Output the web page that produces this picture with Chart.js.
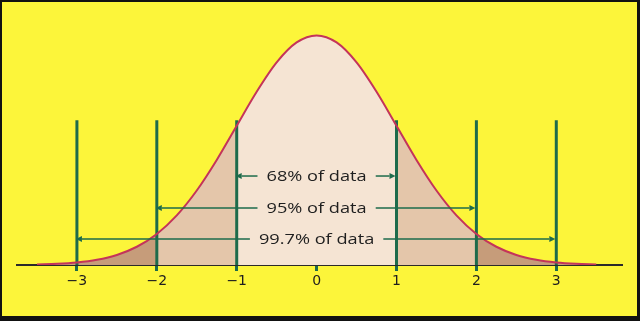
<!DOCTYPE html>
<html>
<head>
<meta charset="utf-8">
<script src="https://cdn.jsdelivr.net/npm/chart.js@4/dist/chart.umd.min.js"></script>
<style>
  html, body { margin: 0; padding: 0; background: #fcf53a; }
  canvas { display: block; }
</style>
</head>
<body>
<canvas id="bell" width="640" height="321"></canvas>
<script>
// bell curve (x in standard deviations, height of the curve)
const zValues = [-3.5, -3.25, -3, -2.75, -2.5, -2.25, -2, -1.75, -1.5, -1.25, -1, -0.75, -0.5, -0.25,
  0, 0.25, 0.5, 0.75, 1, 1.25, 1.5, 1.75, 2, 2.25, 2.5, 2.75, 3, 3.25, 3.5];
const density = [0.0009, 0.002, 0.0044, 0.0091, 0.0175, 0.0317, 0.054, 0.0863, 0.1295, 0.1826, 0.242, 0.3011, 0.3521, 0.3867,
  0.3989, 0.3867, 0.3521, 0.3011, 0.242, 0.1826, 0.1295, 0.0863, 0.054, 0.0317, 0.0175, 0.0091, 0.0044, 0.002, 0.0009];

const sigmaTicks = [-3, -2, -1, 0, 1, 2, 3];
const markerLines = [-3, -2, -1, 1, 2, 3];
const rangeLabels = ['68% of data', '95% of data', '99.7% of data'];
const rangeWidths = [1, 2, 3];

const GREEN = '#1d6b4b';
const points = zValues.map((z, i) => ({ x: z, y: density[i] }));
const band = (lo, hi) => points.filter(p => p.x >= lo && p.x <= hi);

const areaSet = (data, color) => ({
  data: data, fill: 'origin', backgroundColor: color,
  borderWidth: 0, pointRadius: 0, cubicInterpolationMode: 'monotone'
});

const datasets = [
  { data: points, borderColor: '#c4345a', borderWidth: 2, pointRadius: 0, fill: false, cubicInterpolationMode: 'monotone' },
  ...markerLines.map(v => ({
    data: [{ x: v, y: 0 }, { x: v, y: 0.2515 }],
    borderColor: GREEN, borderWidth: 3, pointRadius: 0, fill: false
  })),
  areaSet(band(-1, 1), '#f5e4d3'),
  areaSet(band(-2, -1), '#e4c6aa'),
  areaSet(band(1, 2), '#e4c6aa'),
  areaSet(band(-4, -2), '#c69c7a'),
  areaSet(band(2, 4), '#c69c7a')
];

const frame = {
  id: 'frame',
  beforeDraw(chart) {
    const { ctx, width, height } = chart;
    ctx.save();
    ctx.fillStyle = '#fcf53a';
    ctx.fillRect(0, 0, width, height);
    ctx.restore();
  },
  afterDraw(chart) {
    const { ctx, width, height } = chart;
    ctx.save();
    ctx.fillStyle = '#111';
    ctx.fillRect(0, 0, width, 2);
    ctx.fillRect(0, 0, 2, height);
    ctx.fillRect(width - 3, 0, 3, height);
    ctx.fillRect(0, height - 5, width, 5);
    ctx.restore();
  }
};

const rangeArrows = {
  id: 'rangeArrows',
  afterDatasetsDraw(chart) {
    const { ctx, scales: { x, y } } = chart;
    const levels = [0.1546, 0.099, 0.0452];
    const stretch = 1.3, gap = 9, head = 6;
    const cx = x.getPixelForValue(0);
    ctx.save();
    ctx.font = '500 14px "Open Sans"';
    ctx.textAlign = 'center';
    ctx.textBaseline = 'middle';
    ctx.strokeStyle = GREEN;
    ctx.fillStyle = GREEN;
    ctx.lineWidth = 1.5;

    const arrow = (from, to, py) => {
      const dir = to > from ? 1 : -1;
      ctx.beginPath();
      ctx.moveTo(from, py);
      ctx.lineTo(to - dir * head, py);
      ctx.stroke();
      ctx.beginPath();
      ctx.moveTo(to, py);
      ctx.lineTo(to - dir * head, py - 3);
      ctx.lineTo(to - dir * head, py + 3);
      ctx.closePath();
      ctx.fill();
    };

    rangeLabels.forEach((label, i) => {
      const py = y.getPixelForValue(levels[i]);
      const half = ctx.measureText(label).width * stretch / 2;
      arrow(cx - half - gap, x.getPixelForValue(-rangeWidths[i]) - 1, py);
      arrow(cx + half + gap, x.getPixelForValue(rangeWidths[i]) - 1, py);
      ctx.save();
      ctx.fillStyle = '#1e1e1e';
      ctx.translate(cx, py + 1);
      ctx.scale(stretch, 1);
      ctx.fillText(label, 0, 0);
      ctx.restore();
    });
    ctx.restore();
  }
};

new Chart(document.getElementById('bell'), {
  type: 'line',
  data: { datasets: datasets },
  options: {
    responsive: false,
    animation: false,
    layout: { padding: { left: 17, right: 19, top: 6, bottom: 0 } },
    plugins: { legend: { display: false }, tooltip: { enabled: false } },
    scales: {
      x: {
        type: 'linear',
        min: -3.75,
        max: 3.81,
        z: 1,
        afterBuildTicks: s => { s.ticks = sigmaTicks.map(v => ({ value: v })); },
        afterFit: s => { s.height = 56; },
        grid: { display: true, drawOnChartArea: false, drawTicks: true, tickLength: 6, color: GREEN, lineWidth: 3 },
        border: { display: true, color: '#2a2a2a', width: 2 },
        ticks: {
          padding: 2,
          color: '#1e1e1e',
          font: { family: 'DejaVu Sans', size: 14 },
          maxRotation: 0,
          callback: v => v < 0 ? '\u2212' + Math.abs(v) : String(v)
        }
      },
      y: { display: false, min: 0, max: 0.45 }
    }
  },
  plugins: [frame, rangeArrows]
});
</script>
</body>
</html>
